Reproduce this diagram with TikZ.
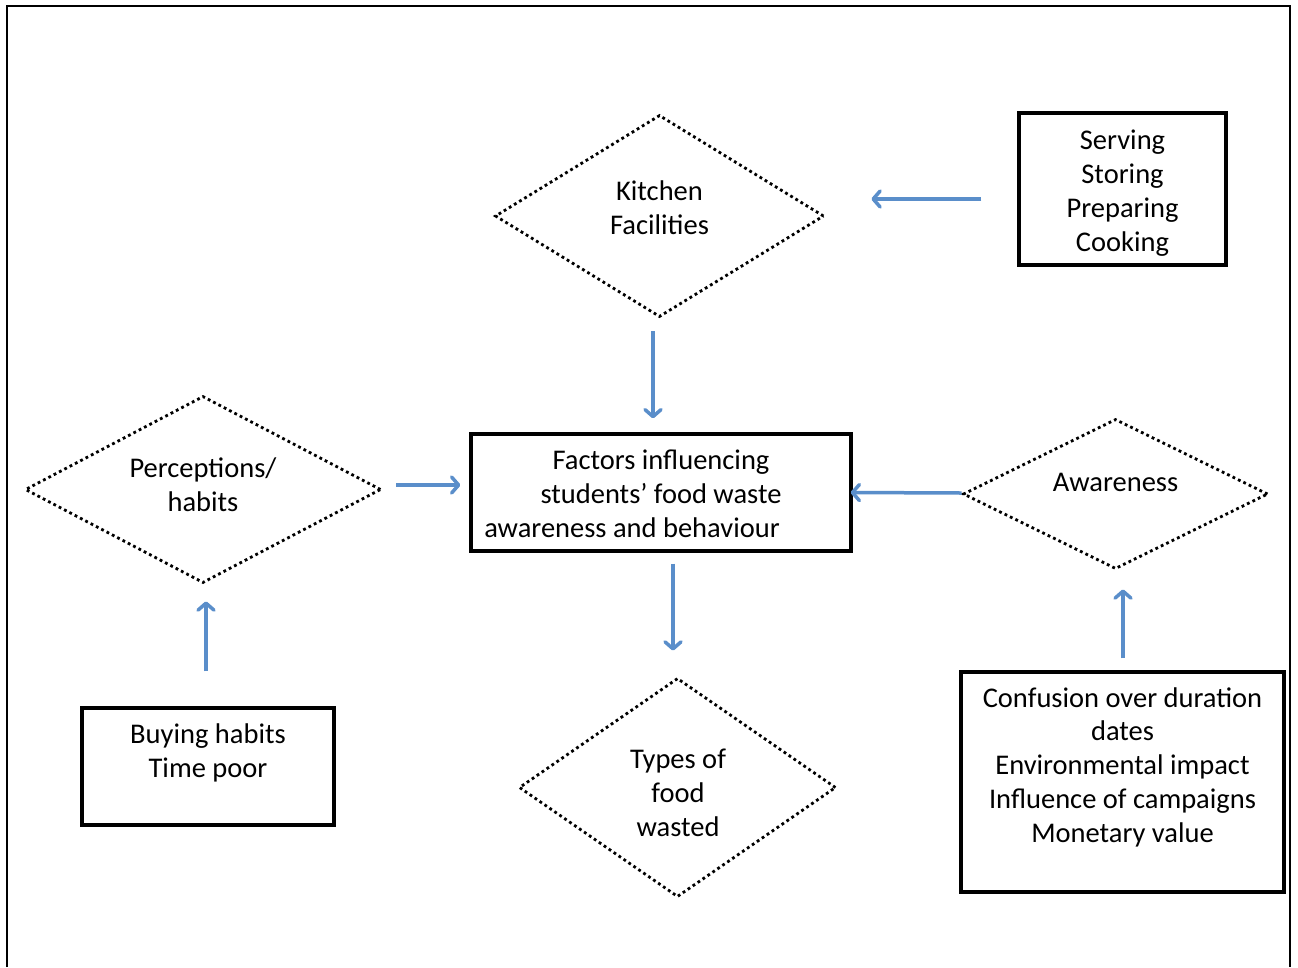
\documentclass[tikz,border=0pt]{standalone}
\usepackage{fontspec}
\setmainfont{Carlito}
\usetikzlibrary{shapes.geometric,arrows.meta,calc}
\definecolor{arrblue}{RGB}{90,142,202}
\begin{document}
\begin{tikzpicture}[x=1pt,y=-1pt,
  every node/.style={font=\fontsize{28.5}{33.8}\selectfont, align=center, inner sep=0pt},
  box/.style={draw, line width=3.3pt, rectangle},
  dia/.style={draw, diamond, line width=2.8pt, dash pattern=on 2.8pt off 3.2pt},
  arr/.style={draw=arrblue, line width=3.5pt, -{Straight Barb[length=7pt,width=16pt,line width=3.5pt,round]}}]
\useasboundingbox (0,0) rectangle (1298,967);
\draw[line width=2.8pt] (7,967) -- (7,6) -- (1290,6) -- (1290,967);

% shapes
\node[dia, minimum width=329pt, minimum height=202pt] (kit) at (659.5,216) {};
\node[box, minimum width=207pt, minimum height=152pt] (serv) at (1122.5,189) {};
\node[box, minimum width=380pt, minimum height=117pt] (fac) at (661,492.5) {};
\node[dia, minimum width=356pt, minimum height=187pt] (perc) at (203,489.5) {};
\node[dia, minimum width=305pt, minimum height=150pt] (awa) at (1115.5,494) {};
\node[box, minimum width=323pt, minimum height=220pt] (conf) at (1122.5,782) {};
\node[dia, minimum width=317pt, minimum height=219pt] (types) at (677.5,787.5) {};
\node[box, minimum width=252pt, minimum height=117pt] (buy) at (208,766.5) {};

% texts
\node (kitT) at ($(kit)+(0,-8)$) {Kitchen\\Facilities};
\node (servT) at ($(serv)+(0,4)$) {Serving\\Storing\\Preparing\\Cooking};
\node (facT) at ($(fac)+(0,1.5)$) {Factors influencing\\students’ food waste\\awareness and behaviour\hspace*{58pt}};
\node (percT) at ($(perc)+(0,-4.5)$) {Perceptions/\\habits};
\node (awaT) at ($(awa)+(0,-12)$) {Awareness};
\node (confT) at ($(conf)+(0,-15)$) {Confusion over duration\\dates\\Environmental impact\\Influence of campaigns\\Monetary value};
\node (typesT) at ($(types)+(0.5,5.5)$) {Types of\\food\\wasted};
\node (buyT) at ($(buy)+(0,-14)$) {Buying habits\\Time poor};

% connectors
\draw[arr] ($(serv.west)+(-36,10)$) -- ($(kit.east)+(46,-17)$);
\draw[arr] ($(kit.south)+(-6.5,13)$) -- ($(fac.north)+(-8,-14)$);
\draw[arr] ($(perc.east)+(14,-4.5)$) -- ($(fac.west)+(-9,-7.5)$);
\draw[arr] ($(awa.west)+(0,-1)$) -- ($(fac.east)+(-2,0)$);
\draw[arr] ($(fac.south)+(12,11)$) -- ($(types.north)+(-4.5,-26)$);
\draw[arr] ($(buy.north)+(-2,-35)$) -- ($(perc.south)+(3,17)$);
\draw[arr] ($(conf.north)+(0.5,-12)$) -- ($(awa.south)+(7.5,19)$);
\end{tikzpicture}
\end{document}
